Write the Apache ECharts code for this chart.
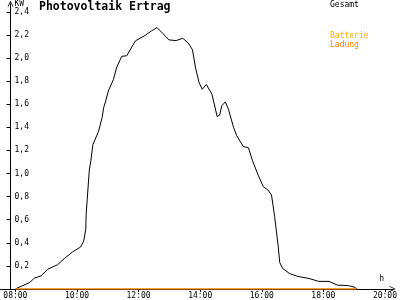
<!DOCTYPE html>
<html>
<head>
<meta charset="utf-8">
<script src="https://cdn.jsdelivr.net/npm/echarts@6/dist/echarts.min.js"></script>
<style>html,body{margin:0;padding:0;background:#fff}#c{width:400px;height:300px}</style>
</head>
<body>
<div id="c"></div>
<script>
const titleText = 'Photovoltaik Ertrag';
const xTicks = [8, 10, 12, 14, 16, 18, 20];
const yTicks = [0.2, 0.4, 0.6, 0.8, 1.0, 1.2, 1.4, 1.6, 1.8, 2.0, 2.2, 2.4];
const gesamtTimes = ['08:00','08:28','08:37','08:50','09:03','09:22','09:35','09:51','10:07','10:13','10:17','10:18','10:20','10:24','10:27','10:31','10:42','10:49','10:52','10:56','11:01','11:11','11:17','11:27','11:37','11:54','12:12','12:25','12:36','12:47','12:59','13:13','13:26','13:37','13:45','13:51','13:58','14:04','14:12','14:23','14:33','14:38','14:42','14:49','14:55','15:05','15:11','15:24','15:34','15:42','15:53','16:03','16:12','16:19','16:25','16:32','16:35','16:41','16:54','17:10','17:32','17:51','18:11','18:27','18:49','19:02','19:05'];
const gesamtValues = [0,0.057,0.094,0.114,0.171,0.21,0.263,0.32,0.363,0.414,0.514,0.657,0.78,1.03,1.11,1.25,1.365,1.486,1.571,1.629,1.714,1.814,1.914,2.014,2.02,2.149,2.194,2.234,2.263,2.214,2.157,2.151,2.171,2.13,2.071,1.914,1.786,1.729,1.771,1.686,1.494,1.506,1.586,1.62,1.557,1.4,1.329,1.234,1.223,1.11,0.986,0.886,0.857,0.814,0.629,0.371,0.229,0.177,0.134,0.109,0.091,0.066,0.066,0.034,0.029,0.014,0];
const batterieTimes = [];
const batterieValues = [];
const ladungTimes = ['08:00','19:05'];
const ladungValues = [0, 0];

function toHours(t){ const p = t.split(':'); return +p[0] + (+p[1])/60; }
function pairs(ts, vs){ return ts.map((t,i)=>[toHours(t), vs[i]]); }
const FONT = 'DejaVu Sans Mono';
const chevronUp = 'path://M0,10 L5,0 L10,10 L8.6,10 L5,2.8 L1.4,10 Z';

const chart = echarts.init(document.getElementById('c'), null, {renderer:'canvas'});
chart.setOption({
  animation: false,
  backgroundColor: '#fff',
  title: {
    text: titleText, left: 39, top: 1, padding: 0,
    textStyle: {fontFamily: FONT, fontSize: 11.5, fontWeight: 'bold', color: '#000'}
  },
  legend: [
    {
      data: [{name:'Gesamt', textStyle:{color:'#000'}}],
      orient: 'vertical', left: 325, top: 0, padding: 0, itemGap: 0,
      icon: 'none', itemWidth: 0, itemHeight: 0, selectedMode: false,
      textStyle: {fontFamily: FONT, fontSize: 8, lineHeight: 9}
    },
    {
      data: [{name:'Batterie', textStyle:{color:'#ffaa00'}}, {name:'Ladung', textStyle:{color:'#ff8000'}}],
      orient: 'vertical', left: 325, top: 31, padding: 0, itemGap: 0,
      icon: 'none', itemWidth: 0, itemHeight: 0, selectedMode: false,
      textStyle: {fontFamily: FONT, fontSize: 8, lineHeight: 9}
    }
  ],
  grid: {left: 0, right: 2, top: 2, bottom: 10, containLabel: false},
  xAxis: {
    type: 'value', min: 7.5, max: 20.25,
    name: 'h', nameLocation: 'end', nameGap: -11,
    nameTextStyle: {fontFamily: FONT, fontSize: 8, color: '#000', align: 'center', verticalAlign: 'bottom', padding: [0,0,6,0]},
    axisLine: {show: true, onZero: false, lineStyle: {color: '#000', width: 1}, symbol: ['none', chevronUp], symbolSize: [7, 6]},
    axisTick: {show: true, length: 3, customValues: xTicks, lineStyle: {color: '#000'}},
    axisLabel: {
      customValues: xTicks, margin: 3, color: '#000', fontFamily: FONT, fontSize: 8,
      formatter: v => String(Math.round(v)).padStart(2,'0') + ':00'
    },
    splitLine: {show: false}
  },
  yAxis: {
    type: 'value', min: 0, max: 2.47, offset: -10.5,
    name: 'KW', nameLocation: 'end', nameGap: -3,
    nameTextStyle: {fontFamily: FONT, fontSize: 8, color: '#000', align: 'left', verticalAlign: 'middle', padding: [0,0,0,4]},
    axisLine: {show: true, onZero: false, lineStyle: {color: '#000', width: 1}, symbol: ['none', chevronUp], symbolSize: [7, 6]},
    axisTick: {show: true, length: 4, customValues: yTicks, lineStyle: {color: '#000'}},
    axisLabel: {
      customValues: yTicks, inside: true, margin: 4, color: '#000', fontFamily: FONT, fontSize: 8,
      formatter: v => v.toFixed(1).replace('.', ',')
    },
    splitLine: {show: false}
  },
  series: [
    {name: 'Gesamt', type: 'line', data: pairs(gesamtTimes, gesamtValues), showSymbol: false, symbol: 'none',
     color: '#000', lineStyle: {color: '#000', width: 1}, z: 3},
    {name: 'Batterie', type: 'line', data: pairs(batterieTimes, batterieValues), showSymbol: false, symbol: 'none',
     color: '#ffaa00', lineStyle: {color: '#ffaa00', width: 1}, z: 4},
    {name: 'Ladung', type: 'line', data: pairs(ladungTimes, ladungValues), showSymbol: false, symbol: 'none',
     color: '#ff8000', lineStyle: {color: '#ff8000', width: 1.5}, z: 5}
  ]
});
</script>
</body>
</html>
